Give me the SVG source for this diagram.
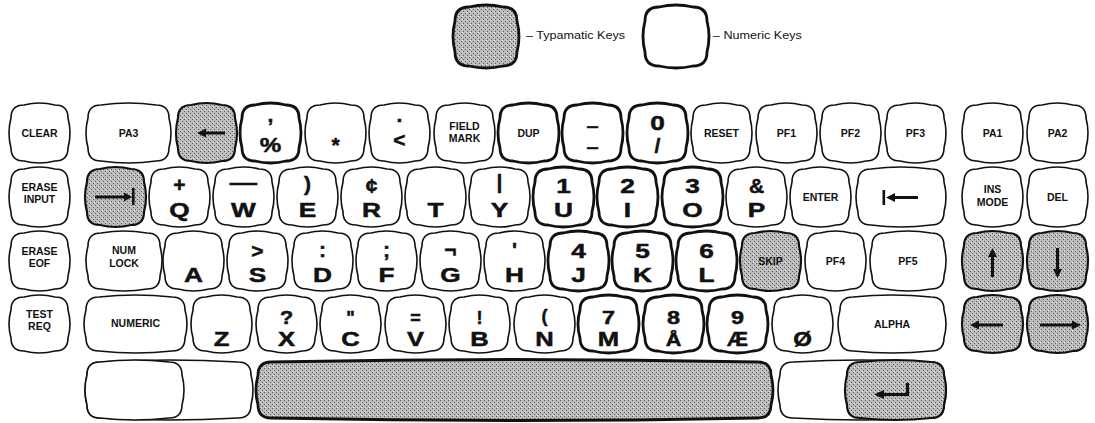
<svg xmlns="http://www.w3.org/2000/svg" width="1095" height="423" viewBox="0 0 1095 423">
<style>
.k{fill:#fff;stroke:#111;stroke-width:1.6}
.n{fill:#fff;stroke:#111;stroke-width:2.8}
.t{fill:url(#dot);stroke:#111;stroke-width:2.2}
.s{font-family:"Liberation Sans",Arial,sans-serif;font-weight:bold;font-size:10.5px;text-anchor:middle;fill:#111}
.b{font-family:"Liberation Sans",Arial,sans-serif;font-weight:bold;font-size:21px;text-anchor:middle;fill:#111;stroke:#111;stroke-width:0.5}
.b4{font-size:20px}
.u4{font-size:18px}
.lg{font-family:"Liberation Sans",Arial,sans-serif;font-size:10.5px;fill:#111}
.ar{fill:#111}
</style>
<defs>
<pattern id="dot" width="4" height="4" patternUnits="userSpaceOnUse"><rect width="4" height="4" fill="#bcbcbc"/><rect width="1" height="1" fill="#5a5a5a"/><rect x="2" y="2" width="1" height="1" fill="#5a5a5a"/><rect x="3" y="1" width="1" height="1" fill="#e0e0e0"/></pattern>
<path id="s57" d="M13,0 Q28.5,-4 44,0 Q57,0 57,13 Q61,28 57,43 Q57,56 44,56 Q28.5,60 13,56 Q0,56 0,43 Q-4,28 0,13 Q0,0 13,0Z"/>
<path id="s57r" d="M13,0 Q28.5,-4 44,0 Q57,0 57,13 Q61,27 57,41 Q57,54 44,54 Q28.5,58 13,54 Q0,54 0,41 Q-4,27 0,13 Q0,0 13,0Z"/>
<path id="lgk" d="M14,0 Q31,-4 48,0 Q62,0 62,14 Q66,29.5 62,45 Q62,59 48,59 Q31,63 14,59 Q0,59 0,45 Q-4,29.5 0,14 Q0,0 14,0Z"/>
<path id="s81" d="M13,0 Q40.5,-4 68,0 Q81,0 81,13 Q85,28 81,43 Q81,56 68,56 Q40.5,60 13,56 Q0,56 0,43 Q-4,28 0,13 Q0,0 13,0Z"/>
<path id="s72" d="M13,0 Q36,-4 59,0 Q72,0 72,13 Q76,28 72,43 Q72,56 59,56 Q36,60 13,56 Q0,56 0,43 Q-4,28 0,13 Q0,0 13,0Z"/>
<path id="s86" d="M13,0 Q43,-4 73,0 Q86,0 86,13 Q90,28 86,43 Q86,56 73,56 Q43,60 13,56 Q0,56 0,43 Q-4,28 0,13 Q0,0 13,0Z"/>
<path id="s99" d="M13,0 Q49.5,-4 86,0 Q99,0 99,13 Q103,27 99,41 Q99,54 86,54 Q49.5,58 13,54 Q0,54 0,41 Q-4,27 0,13 Q0,0 13,0Z"/>
<path id="s104" d="M13,0 Q52,-4 91,0 Q104,0 104,13 Q108,27 104,41 Q104,54 91,54 Q52,58 13,54 Q0,54 0,41 Q-4,27 0,13 Q0,0 13,0Z"/>
<path id="s164" d="M13,0 Q82,-4 151,0 Q164,0 164,13 Q168,28 164,43 Q164,56 151,56 Q82,60 13,56 Q0,56 0,43 Q-4,28 0,13 Q0,0 13,0Z"/>
<path id="s95" d="M13,0 Q47.5,-4 82,0 Q95,0 95,13 Q99,28 95,43 Q95,56 82,56 Q47.5,60 13,56 Q0,56 0,43 Q-4,28 0,13 Q0,0 13,0Z"/>
<path id="s513" d="M13,0 Q256.5,-5 500,0 Q513,0 513,13 Q517,28 513,43 Q513,56 500,56 Q256.5,61 13,56 Q0,56 0,43 Q-4,28 0,13 Q0,0 13,0Z"/>
<path id="s97" d="M13,0 Q48.5,-4 84,0 Q97,0 97,13 Q101,28 97,43 Q97,56 84,56 Q48.5,60 13,56 Q0,56 0,43 Q-4,28 0,13 Q0,0 13,0Z"/>
</defs>
<rect width="1095" height="423" fill="#fff"/>

<g id="legend-typamatic"><use href="#lgk" class="t" x="455" y="7" style="stroke-width:2.8"/><text class="lg" transform="translate(526,39) scale(1.2,1)">– Typamatic Keys</text></g>
<g id="legend-numeric"><use href="#lgk" class="n" x="645" y="7"/><text class="lg" transform="translate(713,39) scale(1.2,1)">– Numeric Keys</text></g>

<!-- Row 1 -->
<g id="key-clear"><use href="#s57" class="k" x="11" y="105"/><text class="s" x="39.5" y="137">CLEAR</text></g>
<g id="key-pa3"><use href="#s81" class="k" x="88" y="105"/><text class="s" x="128.5" y="137">PA3</text></g>
<g id="key-backspace"><use href="#s57" class="t" x="178" y="105"/><path class="ar" d="M197,133 L206,128.5 L206,131.5 L225,131.5 L225,134.5 L206,134.5 L206,137.5 Z"/></g>
<g id="key-percent"><use href="#s57" class="n" x="242" y="105"/><text class="b" x="270.5" y="122">,</text><text class="b" transform="translate(270.5,152) scale(1.15,1)">%</text></g>
<g id="key-star"><use href="#s57" class="k" x="307" y="105"/><text class="b" x="335.5" y="152">*</text></g>
<g id="key-less"><use href="#s57" class="k" x="371" y="105"/><text class="b" x="399.5" y="122">.</text><text class="b" x="399.5" y="147">&lt;</text></g>
<g id="key-fieldmark"><use href="#s57" class="k" x="436" y="105"/><text class="s" x="464.5" y="130">FIELD</text><text class="s" x="464.5" y="142">MARK</text></g>
<g id="key-dup"><use href="#s57" class="n" x="500" y="105"/><text class="s" x="528.5" y="137">DUP</text></g>
<g id="key-minus"><use href="#s57" class="n" x="564" y="105"/><text class="b u4" transform="translate(592.5,132) scale(1.2,1)">–</text><text class="b u4" transform="translate(592.5,153) scale(1.2,1)">–</text></g>
<g id="key-zero"><use href="#s57" class="n" x="629" y="105"/><text class="b" transform="translate(657.5,130) scale(1.25,1)">0</text><text class="b" x="657.5" y="153">/</text></g>
<g id="key-reset"><use href="#s57" class="k" x="693" y="105"/><text class="s" x="721.5" y="137">RESET</text></g>
<g id="key-pf1"><use href="#s57" class="k" x="758" y="105"/><text class="s" x="786.5" y="137">PF1</text></g>
<g id="key-pf2"><use href="#s57" class="k" x="822" y="105"/><text class="s" x="850.5" y="137">PF2</text></g>
<g id="key-pf3"><use href="#s57" class="k" x="887" y="105"/><text class="s" x="915.5" y="137">PF3</text></g>
<g id="key-pa1"><use href="#s57" class="k" x="964" y="105"/><text class="s" x="992.5" y="137">PA1</text></g>
<g id="key-pa2"><use href="#s57" class="k" x="1029" y="105"/><text class="s" x="1057.5" y="137">PA2</text></g>

<!-- Row 2 -->
<g id="key-eraseinput"><use href="#s57" class="k" x="11" y="169"/><text class="s" x="39.5" y="191">ERASE</text><text class="s" x="39.5" y="203">INPUT</text></g>
<g id="key-tab"><use href="#s57" class="t" x="87" y="169"/><path class="ar" d="M95,195.5 L124,195.5 L124,192.5 L132,197 L124,201.5 L124,198.5 L95,198.5 Z"/><rect class="ar" x="132" y="188" width="2.6" height="17"/></g>
<g id="key-q"><use href="#s57" class="k" x="151" y="169"/><text class="b" x="179.5" y="192">+</text><text class="b" transform="translate(179.5,217) scale(1.25,1)">Q</text></g>
<g id="key-w"><use href="#s57" class="k" x="215" y="169"/><text class="b" transform="translate(243.5,189) scale(1.3,1)">—</text><text class="b" transform="translate(243.5,217) scale(1.25,1)">W</text></g>
<g id="key-e"><use href="#s57" class="k" x="279" y="169"/><text class="b" x="307.5" y="191">)</text><text class="b" transform="translate(307.5,217) scale(1.25,1)">E</text></g>
<g id="key-r"><use href="#s57" class="k" x="343" y="169"/><text class="b" x="371.5" y="193">¢</text><text class="b" transform="translate(371.5,217) scale(1.25,1)">R</text></g>
<g id="key-t"><use href="#s57" class="k" x="407" y="169"/><text class="b" transform="translate(435.5,217) scale(1.25,1)">T</text></g>
<g id="key-y"><use href="#s57" class="k" x="471" y="169"/><text class="b" x="499.5" y="189">|</text><text class="b" transform="translate(499.5,217) scale(1.25,1)">Y</text></g>
<g id="key-u"><use href="#s57" class="n" x="535" y="169"/><text class="b" transform="translate(563.5,193) scale(1.25,1)">1</text><text class="b" transform="translate(563.5,217) scale(1.25,1)">U</text></g>
<g id="key-i"><use href="#s57" class="n" x="599" y="169"/><text class="b" transform="translate(627.5,193) scale(1.25,1)">2</text><text class="b" transform="translate(627.5,217) scale(1.25,1)">I</text></g>
<g id="key-o"><use href="#s57" class="n" x="664" y="169"/><text class="b" transform="translate(692.5,193) scale(1.25,1)">3</text><text class="b" transform="translate(692.5,217) scale(1.25,1)">O</text></g>
<g id="key-p"><use href="#s57" class="k" x="728" y="169"/><text class="b" x="756.5" y="193">&amp;</text><text class="b" transform="translate(756.5,217) scale(1.25,1)">P</text></g>
<g id="key-enter-row2"><use href="#s57" class="k" x="792" y="169"/><text class="s" x="820.5" y="201">ENTER</text></g>
<g id="key-backtab"><use href="#s86" class="k" x="858" y="169"/><rect class="ar" x="882.5" y="190" width="2.6" height="15"/><path class="ar" d="M886,197.5 L895,193 L895,196 L918,196 L918,199 L895,199 L895,202 Z"/></g>
<g id="key-insmode"><use href="#s57" class="k" x="964" y="169"/><text class="s" x="992.5" y="193">INS</text><text class="s" x="992.5" y="206">MODE</text></g>
<g id="key-del"><use href="#s57" class="k" x="1029" y="169"/><text class="s" x="1057.5" y="201">DEL</text></g>

<!-- Row 3 -->
<g id="key-eraseeof"><use href="#s57" class="k" x="11" y="233"/><text class="s" x="39.5" y="255">ERASE</text><text class="s" x="39.5" y="267">EOF</text></g>
<g id="key-numlock"><use href="#s72" class="k" x="88" y="233"/><text class="s" x="124" y="254">NUM</text><text class="s" x="124" y="267">LOCK</text></g>
<g id="key-a"><use href="#s57" class="k" x="165" y="233"/><text class="b" transform="translate(193.5,282) scale(1.25,1)">A</text></g>
<g id="key-s"><use href="#s57" class="k" x="229" y="233"/><text class="b" x="257.5" y="258">&gt;</text><text class="b" transform="translate(257.5,282) scale(1.25,1)">S</text></g>
<g id="key-d"><use href="#s57" class="k" x="294" y="233"/><text class="b" x="322.5" y="257">:</text><text class="b" transform="translate(322.5,282) scale(1.25,1)">D</text></g>
<g id="key-f"><use href="#s57" class="k" x="358" y="233"/><text class="b" x="386.5" y="257">;</text><text class="b" transform="translate(386.5,282) scale(1.25,1)">F</text></g>
<g id="key-g"><use href="#s57" class="k" x="422" y="233"/><text class="b" x="450.5" y="257">¬</text><text class="b" transform="translate(450.5,282) scale(1.25,1)">G</text></g>
<g id="key-h"><use href="#s57" class="k" x="486" y="233"/><text class="b" x="514.5" y="257">'</text><text class="b" transform="translate(514.5,282) scale(1.25,1)">H</text></g>
<g id="key-j"><use href="#s57" class="n" x="550" y="233"/><text class="b" transform="translate(578.5,258) scale(1.25,1)">4</text><text class="b" transform="translate(578.5,282) scale(1.25,1)">J</text></g>
<g id="key-k"><use href="#s57" class="n" x="614" y="233"/><text class="b" transform="translate(642.5,258) scale(1.25,1)">5</text><text class="b" transform="translate(642.5,282) scale(1.25,1)">K</text></g>
<g id="key-l"><use href="#s57" class="n" x="678" y="233"/><text class="b" transform="translate(706.5,258) scale(1.25,1)">6</text><text class="b" transform="translate(706.5,282) scale(1.25,1)">L</text></g>
<g id="key-skip"><use href="#s57" class="t" x="742" y="233"/><text class="s" x="770.5" y="265">SKIP</text></g>
<g id="key-pf4"><use href="#s57" class="k" x="807" y="233"/><text class="s" x="835.5" y="265">PF4</text></g>
<g id="key-pf5"><use href="#s72" class="k" x="872" y="233"/><text class="s" x="908" y="265">PF5</text></g>
<g id="key-up"><use href="#s57" class="t" x="964" y="233"/><path class="ar" d="M992.5,248 L997,257 L994,257 L994,277 L991,277 L991,257 L988,257 Z"/></g>
<g id="key-down"><use href="#s57" class="t" x="1029" y="233"/><path class="ar" d="M1057.5,278 L1062,269 L1059,269 L1059,248 L1056,248 L1056,269 L1053,269 Z"/></g>

<!-- Row 4 -->
<g id="key-testreq"><use href="#s57r" class="k" x="11" y="297"/><text class="s" x="39.5" y="318">TEST</text><text class="s" x="39.5" y="330">REQ</text></g>
<g id="key-numeric"><use href="#s99" class="k" x="86" y="297"/><text class="s" x="135.5" y="327">NUMERIC</text></g>
<g id="key-z"><use href="#s57r" class="k" x="193" y="297"/><text class="b b4" transform="translate(221.5,346) scale(1.28,1)">Z</text></g>
<g id="key-x"><use href="#s57r" class="k" x="258" y="297"/><text class="b u4" transform="translate(286.5,324) scale(1.2,1)">?</text><text class="b b4" transform="translate(286.5,346) scale(1.28,1)">X</text></g>
<g id="key-c"><use href="#s57r" class="k" x="322" y="297"/><text class="b u4" x="350.5" y="324">"</text><text class="b b4" transform="translate(350.5,346) scale(1.28,1)">C</text></g>
<g id="key-v"><use href="#s57r" class="k" x="387" y="297"/><text class="b u4" x="415.5" y="324">=</text><text class="b b4" transform="translate(415.5,346) scale(1.28,1)">V</text></g>
<g id="key-b"><use href="#s57r" class="k" x="451" y="297"/><text class="b u4" x="479.5" y="324">!</text><text class="b b4" transform="translate(479.5,346) scale(1.28,1)">B</text></g>
<g id="key-n"><use href="#s57r" class="k" x="516" y="297"/><text class="b u4" x="544.5" y="322">(</text><text class="b b4" transform="translate(544.5,346) scale(1.28,1)">N</text></g>
<g id="key-m"><use href="#s57r" class="n" x="580" y="297"/><text class="b u4" transform="translate(608.5,324) scale(1.3,1)">7</text><text class="b b4" transform="translate(608.5,346) scale(1.28,1)">M</text></g>
<g id="key-aring"><use href="#s57r" class="n" x="645" y="297"/><text class="b u4" transform="translate(673.5,324) scale(1.3,1)">8</text><text class="b u4" transform="translate(673.5,346) scale(1.2,1)">Å</text></g>
<g id="key-ae"><use href="#s57r" class="n" x="709" y="297"/><text class="b u4" transform="translate(737.5,324) scale(1.3,1)">9</text><text class="b b4" transform="translate(737.5,346) scale(1.05,1)">Æ</text></g>
<g id="key-oslash"><use href="#s57r" class="k" x="774" y="297"/><text class="b b4" transform="translate(802.5,346) scale(1.2,1)">Ø</text></g>
<g id="key-alpha"><use href="#s104" class="k" x="840" y="297"/><text class="s" x="892" y="328">ALPHA</text></g>
<g id="key-left"><use href="#s57r" class="t" x="964" y="297"/><path class="ar" d="M970,325 L979,320.5 L979,323.5 L1003,323.5 L1003,326.5 L979,326.5 L979,329.5 Z"/></g>
<g id="key-right"><use href="#s57r" class="t" x="1029" y="297"/><path class="ar" d="M1081,325 L1072,320.5 L1072,323.5 L1040,323.5 L1040,326.5 L1072,326.5 L1072,329.5 Z"/></g>

<!-- Row 5 -->
<g id="key-left-bar"><use href="#s164" class="k" x="87" y="362"/><use href="#s95" class="k" x="87" y="362"/></g>
<g id="key-space"><use href="#s513" class="t" x="258" y="362" style="stroke-width:2.8"/></g>
<g id="key-enter"><use href="#s164" class="k" x="780" y="362"/><use href="#s97" class="t" x="847" y="362"/><path class="ar" d="M909,383 L909,396 L884,396 L884,399 L874,394.5 L884,390 L884,393 L906,393 L906,383 Z"/></g>

<g id="connectors"></g>
</svg>
